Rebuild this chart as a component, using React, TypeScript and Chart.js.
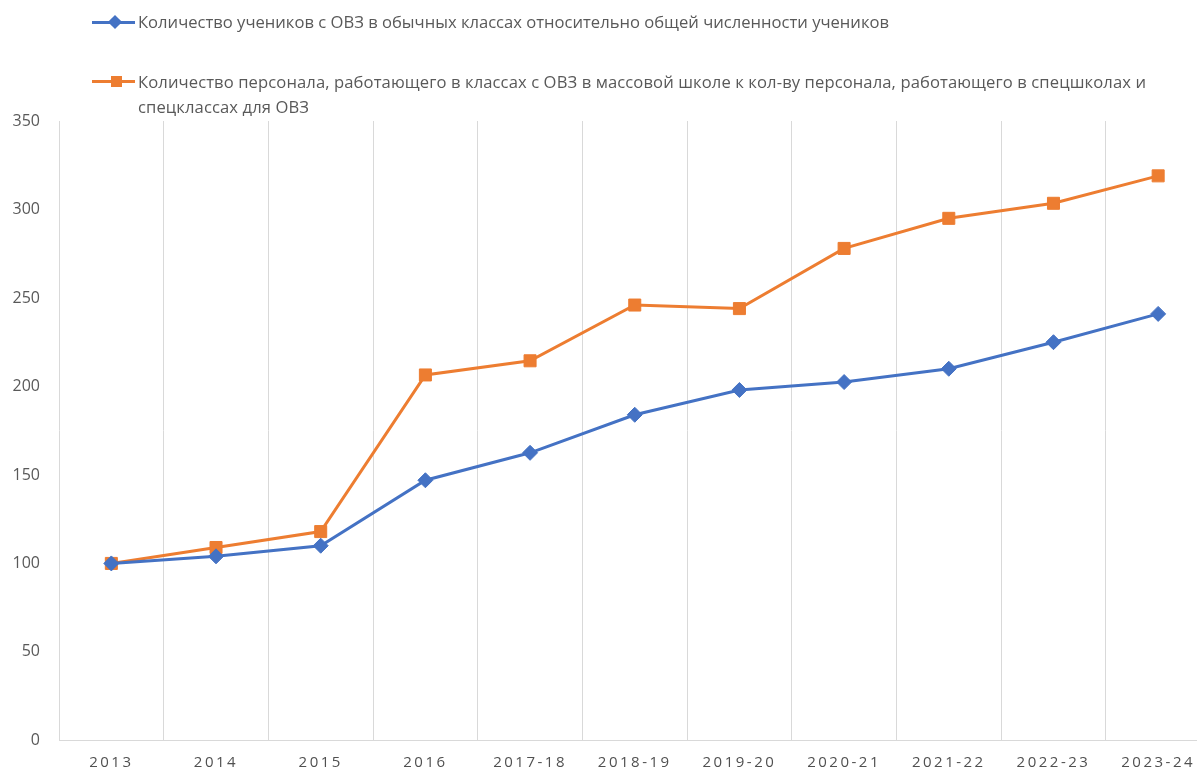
import React, { useEffect, useRef } from "react";
import { Chart, registerables } from "chart.js";

Chart.register(...registerables);

const categories = ["2013", "2014", "2015", "2016", "2017-18", "2018-19", "2019-20", "2020-21", "2021-22", "2022-23", "2023-24"];
const studentsSeries = [100, 104, 110, 147, 162.5, 184, 198, 202.5, 210, 225, 241];
const staffSeries = [100, 109, 118, 206.5, 214.5, 246, 244, 278, 295, 303.5, 319];
const yTicks = [0, 50, 100, 150, 200, 250, 300, 350];

const studentsLabel = "Количество учеников с ОВЗ в обычных классах относительно общей численности учеников";
const staffLabelLine1 = "Количество персонала, работающего в классах с ОВЗ в массовой школе к кол-ву персонала, работающего в спецшколах и";
const staffLabelLine2 = "спецклассах для ОВЗ";

const BLUE = "#4472C4";
const ORANGE = "#ED7D31";
const TEXT = "#595959";
const GRID = "#D9D9D9";
const FONT = "'Open Sans', 'Noto Sans', sans-serif";

const letterSpacingPlugin = {
  id: "xLetterSpacing",
  beforeDraw(chart: any) {
    const s = chart.scales.x;
    if (s && !s.__wrapped) {
      const orig = s.drawLabels.bind(s);
      s.drawLabels = (ca: any) => {
        const ctx = chart.ctx as any;
        ctx.save();
        ctx.letterSpacing = "2.5px";
        orig(ca);
        ctx.restore();
      };
      s.__wrapped = true;
    }
  },
};

export default function App() {
  const ref = useRef<HTMLCanvasElement | null>(null);

  useEffect(() => {
    if (!ref.current) return;
    const chart = new Chart(ref.current, {
      type: "line",
      data: {
        labels: categories,
        datasets: [
          {
            label: studentsLabel,
            data: studentsSeries,
            borderColor: BLUE,
            backgroundColor: BLUE,
            borderWidth: 3,
            pointStyle: "rectRot",
            pointRadius: 7.5,
            pointBorderWidth: 1,
            pointBorderColor: BLUE,
            pointBackgroundColor: BLUE,
            tension: 0,
          },
          {
            label: staffLabelLine1 + " " + staffLabelLine2,
            data: staffSeries,
            borderColor: ORANGE,
            backgroundColor: ORANGE,
            borderWidth: 3,
            pointStyle: "rect",
            pointRadius: 8.5,
            pointBorderWidth: 1,
            pointBorderColor: ORANGE,
            pointBackgroundColor: ORANGE,
            tension: 0,
          },
        ],
      },
      options: {
        responsive: false,
        animation: false,
        devicePixelRatio: 1,
        layout: { padding: { top: 121, left: 0, right: 0, bottom: 0 } },
        plugins: {
          legend: { display: false },
          tooltip: { enabled: false },
        },
        scales: {
          x: {
            type: "category",
            offset: true,
            grid: { display: true, offset: true, color: GRID, lineWidth: 1, drawTicks: false },
            border: { display: true, color: GRID, width: 1 },
            ticks: {
              color: "#505050",
              font: { family: FONT, size: 15 },
              padding: 13,
              maxRotation: 0,
              autoSkip: false,
            },
            afterFit: (scale: any) => {
              scale.height = 28;
              scale.paddingLeft = 0;
              scale.paddingRight = 0;
            },
          },
          y: {
            min: 0,
            max: 350,
            afterBuildTicks: (scale: any) => {
              scale.ticks = yTicks.map((v) => ({ value: v }));
            },
            grid: { display: false, drawTicks: false },
            border: { display: false },
            ticks: {
              color: TEXT,
              font: { family: FONT, size: 16 },
              padding: 19,
            },
            afterFit: (scale: any) => {
              scale.width = 59;
            },
          },
        },
      },
      plugins: [letterSpacingPlugin],
    });
    return () => chart.destroy();
  }, []);

  const textStyle: React.CSSProperties = {
    position: "absolute",
    left: 138,
    color: TEXT,
    fontFamily: FONT,
    fontSize: 16.6,
    whiteSpace: "nowrap",
  };

  return (
    <div
      style={{
        position: "fixed",
        left: 0,
        top: 0,
        width: 1197,
        height: 769,
        overflow: "hidden",
        background: "#fff",
      }}
    >
      <canvas ref={ref} width={1220} height={769} style={{ position: "absolute", left: 0, top: 0, display: "block" }} />
      {/* legend item 1 */}
      <div style={{ position: "absolute", left: 92, top: 20.5, width: 43, height: 3, background: BLUE }} />
      <div
        style={{
          position: "absolute",
          left: 115 - 5,
          top: 22 - 5,
          width: 10,
          height: 10,
          background: BLUE,
          transform: "rotate(45deg)",
        }}
      />
      <div style={{ ...textStyle, top: 10, lineHeight: "24px" }}>{studentsLabel}</div>
      {/* legend item 2 */}
      <div style={{ position: "absolute", left: 92, top: 79.5, width: 43, height: 3, background: ORANGE }} />
      <div
        style={{
          position: "absolute",
          left: 116 - 5.5,
          top: 81 - 5.5,
          width: 11,
          height: 11,
          background: ORANGE,
        }}
      />
      <div style={{ ...textStyle, top: 68.5, lineHeight: "25px", letterSpacing: "0.1px" }}>
        {staffLabelLine1}
        <br />
        {staffLabelLine2}
      </div>
    </div>
  );
}
